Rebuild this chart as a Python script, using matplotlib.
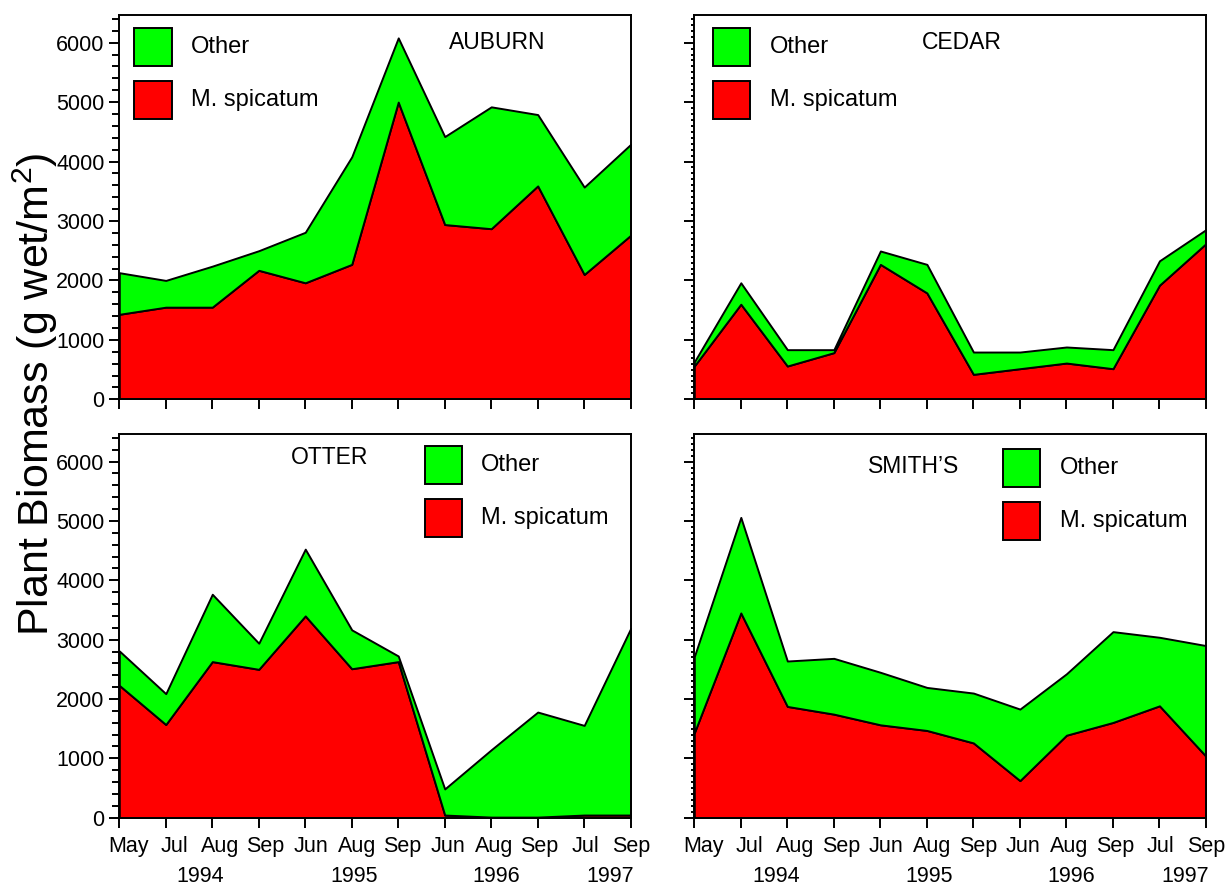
import numpy as np
import matplotlib.pyplot as plt
import matplotlib.transforms as mtransforms
from matplotlib.patches import Rectangle
from matplotlib.ticker import MultipleLocator

plt.rcParams['font.family'] = ['Liberation Sans', 'DejaVu Sans']
plt.rcParams['mathtext.fontset'] = 'custom'
plt.rcParams['mathtext.rm'] = 'Liberation Sans'

months = ['May', 'Jul', 'Aug', 'Sep', 'Jun', 'Aug', 'Sep', 'Jun', 'Aug', 'Sep', 'Jul', 'Sep']
years = ['1994', '1995', '1996', '1997']
year_pos = [1.75, 5.05, 8.1, 10.55]

# biomass per sampling date (g wet/m2)
auburn_milfoil = [1430, 1550, 1550, 2170, 1960, 2270, 5000, 2940, 2870, 3590, 2100, 2760]
auburn_other = [700, 450, 690, 330, 850, 1810, 1080, 1480, 2050, 1200, 1470, 1530]

cedar_milfoil = [560, 1600, 560, 785, 2270, 1790, 420, 515, 610, 515, 1920, 2620]
cedar_other = [70, 360, 275, 50, 225, 480, 375, 280, 270, 320, 410, 235]

otter_milfoil = [2230, 1570, 2630, 2500, 3400, 2510, 2630, 45, 10, 10, 45, 45]
otter_other = [580, 520, 1135, 440, 1125, 655, 95, 440, 1135, 1770, 1510, 3145]

smith_milfoil = [1430, 3450, 1875, 1745, 1565, 1470, 1260, 625, 1390, 1605, 1885, 1035]
smith_other = [1285, 1610, 765, 940, 885, 725, 840, 1205, 1035, 1530, 1155, 1865]

RED = '#ff0000'
GREEN = '#00ff00'

fig = plt.figure(figsize=(12.27, 8.86), dpi=100)

W, H = 1227.0, 886.0
boxes = {
    'tl': [119.3 / W, 1 - 399.3 / H, 511.4 / W, 384 / H],
    'tr': [694.3 / W, 1 - 399.3 / H, 511.7 / W, 384 / H],
    'bl': [119.3 / W, 1 - 817.7 / H, 511.4 / W, 383.4 / H],
    'br': [694.3 / W, 1 - 817.7 / H, 511.7 / W, 383.4 / H],
}

panels = [
    # key, name, milfoil, other, (title x, title y), (legend x, legend y top)
    ('tl', 'AUBURN', auburn_milfoil, auburn_other, (0.738, 0.929), (0.029, 0.984)),
    ('tr', 'CEDAR', cedar_milfoil, cedar_other, (0.523, 0.929), (0.036, 0.984)),
    ('bl', 'OTTER', otter_milfoil, otter_other, (0.412, 0.939), (0.597, 0.985)),
    ('br', "SMITH\u2019S", smith_milfoil, smith_other, (0.429, 0.917), (0.603, 0.978)),
]

x = np.arange(len(months))

for key, name, milfoil, other, tpos, lpos in panels:
    ax = fig.add_axes(boxes[key])
    ax.stackplot(x, milfoil, other, colors=[RED, GREEN],
                 edgecolor='black', linewidth=1.4)
    ax.set_xlim(0, 11)
    ax.set_ylim(0, 6460)

    for sp in ax.spines.values():
        sp.set_linewidth(1.4)

    ax.set_xticks(x)
    ax.yaxis.set_major_locator(MultipleLocator(1000))
    ax.tick_params(axis='both', which='major', direction='out', length=7.5,
                   width=1.4, labelsize=15.5, pad=3)
    ax.tick_params(axis='x', pad=5.5)
    left_col = key in ('tl', 'bl')
    if left_col:
        ax.yaxis.set_minor_locator(MultipleLocator(200))
        ax.tick_params(axis='y', which='minor', direction='out', length=5, width=1.4)
    else:
        ax.yaxis.set_minor_locator(MultipleLocator(100))
        ax.tick_params(axis='y', which='minor', direction='out', length=2, width=1.4)
        ax.set_yticklabels([])

    if key in ('bl', 'br'):
        ax.set_xticklabels(months, fontsize=15.5)
        # month names sit a little right of their ticks, less so toward the end
        n = len(months)
        for i, lab in enumerate(ax.get_xticklabels()):
            dx = 9.5 * (1 - i / (n - 1)) / 100
            shift = mtransforms.ScaledTranslation(dx, 0, fig.dpi_scale_trans)
            lab.set_transform(lab.get_transform() + shift)
        trans = mtransforms.blended_transform_factory(ax.transData, ax.transAxes)
        for yr, xp in zip(years, year_pos):
            ax.text(xp, -0.154, yr, transform=trans, ha='center', va='center',
                    fontsize=15.5)
    else:
        ax.set_xticklabels([])

    ax.text(tpos[0], tpos[1], name, transform=ax.transAxes, ha='center',
            va='center', fontsize=16.5)

    # legend boxes drawn by hand
    pw, ph = 37.5 / 511.5, 38 / 384
    lx, ltop = lpos
    for i, (lab, col) in enumerate([('Other', GREEN), ('M. spicatum', RED)]):
        y0 = ltop - ph - i * 0.1380 - 0.016
        ax.add_patch(Rectangle((lx, y0), pw, ph, transform=ax.transAxes,
                               facecolor=col, edgecolor='black', linewidth=1.4,
                               clip_on=False, zorder=5))
        ax.text(lx + 0.111, y0 + ph / 2, lab, transform=ax.transAxes,
                ha='left', va='center', fontsize=17, zorder=5)

fig.text(0.029, 0.555, 'Plant Biomass (g wet/m$^{2}$)', rotation=90,
         ha='center', va='center', fontsize=31)

fig.savefig('out.png', dpi=100)
